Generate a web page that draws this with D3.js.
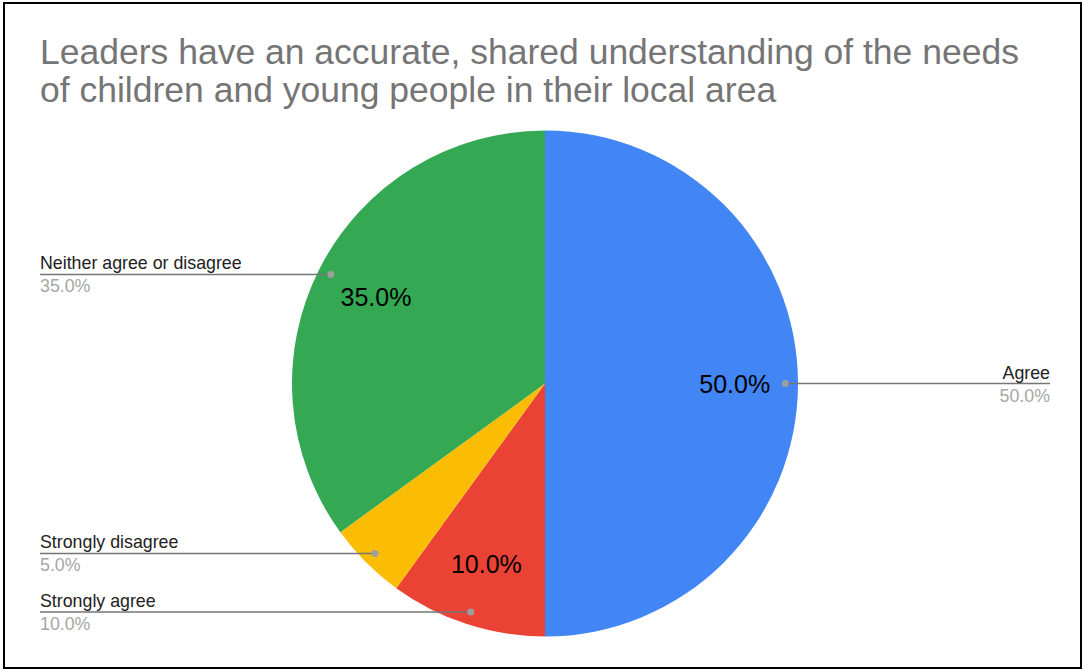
<!DOCTYPE html>
<html>
<head>
<meta charset="utf-8">
<script src="https://cdn.jsdelivr.net/npm/d3@7"></script>
<style>
  html, body { margin: 0; padding: 0; background: #fff; }
  svg { display: block; font-family: "Liberation Sans", Arial, sans-serif; }
</style>
</head>
<body>
<svg id="chart" width="1084" height="671"></svg>
<script>
// Survey responses
const categories = ["Agree", "Strongly agree", "Strongly disagree", "Neither agree or disagree"];
const values = [50, 10, 5, 35];
const colors = ["#4285F4", "#EA4335", "#FBBC04", "#34A853"];
const titleLines = [
  "Leaders have an accurate, shared understanding of the needs",
  "of children and young people in their local area"
];

const W = 1084, H = 671;
const svg = d3.select("#chart");

// Frame
svg.append("rect")
  .attr("x", 4).attr("y", 3).attr("width", 1077).attr("height", 665)
  .attr("fill", "#fff").attr("stroke", "#000").attr("stroke-width", 2);

// Title (one text block, wrapped over two lines)
svg.append("text")
  .attr("font-size", 35.5).attr("fill", "#757575")
  .selectAll("tspan").data(titleLines).join("tspan")
  .attr("x", 40).attr("y", (d, i) => 64 + i * 38)
  .text(d => d);

const cx = 545, cy = 383.5, R = 253;
const total = d3.sum(values);
const fmt = v => (v / total * 100).toFixed(1) + "%";

const pie = d3.pie().sort(null).value(d => d.value);
const arcs = pie(categories.map((c, i) => ({ name: c, value: values[i], color: colors[i] })));
const arc = d3.arc().innerRadius(0).outerRadius(R);

const g = svg.append("g").attr("transform", `translate(${cx},${cy})`);
g.selectAll("path").data(arcs).join("path")
  .attr("d", arc).attr("fill", d => d.data.color);

// In-slice percentages (skip very small slices)
const inner = d3.arc().innerRadius(R * 0.75).outerRadius(R * 0.75);
g.selectAll("text.pct").data(arcs.filter(d => d.data.value / total >= 0.1)).join("text")
  .attr("class", "pct")
  .attr("transform", d => `translate(${inner.centroid(d)})`)
  .attr("text-anchor", "middle").attr("dy", "0.36em")
  .attr("font-size", 25).attr("fill", "#000")
  .text(d => fmt(d.data.value));

// Leader lines and outside labels
const dotR = R * 0.95;
const labelG = svg.append("g");
arcs.forEach(d => {
  const a = (d.startAngle + d.endAngle) / 2;
  const dx = cx + dotR * Math.sin(a);
  const dy = cy - dotR * Math.cos(a);
  const right = Math.sin(a) > 0;
  const edge = right ? 1050 : 40;
  labelG.append("line")
    .attr("x1", dx).attr("y1", dy).attr("x2", edge).attr("y2", dy)
    .attr("stroke", "#757575").attr("stroke-width", 1.5);
  labelG.append("circle")
    .attr("cx", dx).attr("cy", dy).attr("r", 3.5).attr("fill", "#9e9e9e");
  labelG.append("text")
    .attr("x", edge).attr("y", dy - 5)
    .attr("text-anchor", right ? "end" : "start")
    .attr("font-size", 17.8).attr("fill", "#222")
    .text(d.data.name);
  labelG.append("text")
    .attr("x", edge).attr("y", dy + 18)
    .attr("text-anchor", right ? "end" : "start")
    .attr("font-size", 17.8).attr("fill", "#a6a6a6")
    .text(fmt(d.data.value));
});
</script>
</body>
</html>
